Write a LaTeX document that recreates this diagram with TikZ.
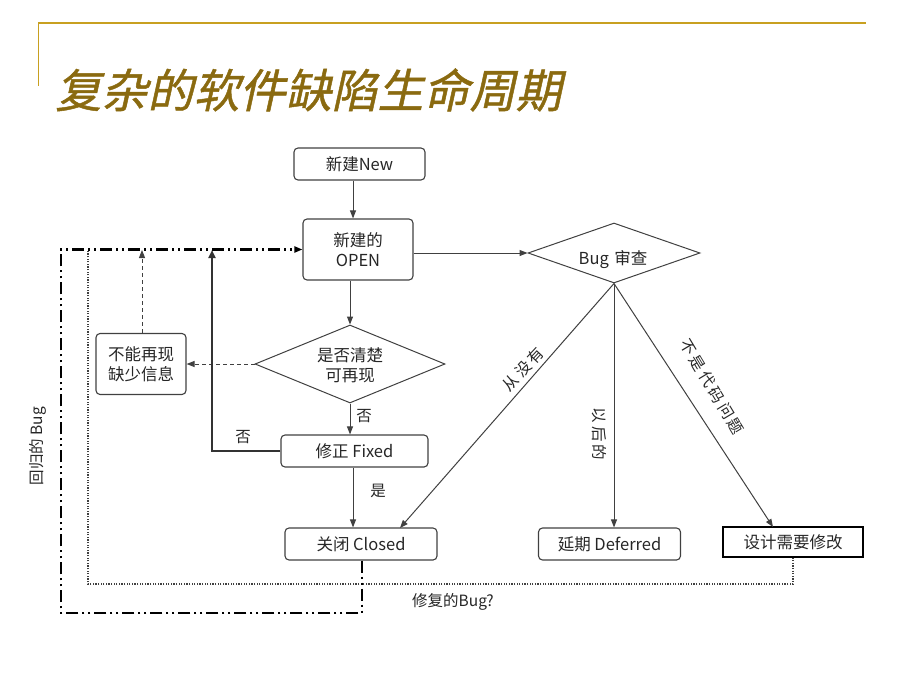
\documentclass[tikz,border=0pt]{standalone}
\usepackage{fontspec}
\setmainfont{Noto Sans CJK SC}
\newfontfamily\titlefont[FakeSlant=0.22,FakeBold=1]{Noto Sans CJK SC}
\usetikzlibrary{arrows.meta,shapes.geometric}
\definecolor{gold}{HTML}{C8A020}
\definecolor{titlecol}{HTML}{8A6A10}
\definecolor{edge}{HTML}{404040}
\newcommand{\gapk}{\kern3pt}
\begin{document}
\begin{tikzpicture}[x=1pt,y=-1pt,
  every node/.style={font=\fontsize{16.5}{20}\selectfont, text=black!85},
  box/.style={draw=edge, line width=1.1pt, rounded corners=4pt, inner sep=0pt, align=center},
  sqbox/.style={draw=black, line width=1.1pt, inner sep=0pt, align=center},
  dia/.style={draw=edge, line width=1pt, diamond, inner sep=0pt},
  arr/.style={draw=edge, line width=1pt, -{Triangle[length=8pt,width=6pt]}},
  thickarr/.style={draw=black!80, line width=2.6pt, -{Triangle[length=8pt,width=7pt]}},
  dasharr/.style={draw=edge, line width=1pt, dash pattern=on 4pt off 3pt, -{Triangle[length=8pt,width=6pt]}},
  dotline/.style={draw=black!75, line width=2pt, dash pattern=on 1.2pt off 1.4pt},
  ddline/.style={draw=black, line width=2.2pt, dash pattern=on 12pt off 4pt on 2pt off 4pt on 2pt off 4pt, -{Triangle[length=8pt,width=6pt]}},
  lbl/.style={font=\fontsize{15.5}{18}\selectfont, inner sep=1pt}
]
\useasboundingbox (0,0) rectangle (920,690);
% header
\draw[gold, line width=1.6pt] (38,23) -- (866,23);
\draw[gold, line width=1pt] (38,23) -- (38,86);
\node[font=\titlefont\fontsize{46}{50}\selectfont, text=titlecol, anchor=west] (title) at (52,90) {复杂的软件缺陷生命周期};

% nodes
\node[box, minimum width=131, minimum height=32] (new) at (359.5,164) {新建New};
\node[box, minimum width=110, minimum height=61] (open) at (358,249.5) {新建的\\OPEN};
\node[dia, minimum width=172, minimum height=60] (bug) at (614,253) {};
\node (bugtxt) at (613,260) {Bug\,\,审查};
\node[dia, minimum width=190, minimum height=78] (rev) at (350,364) {};
\node[align=center] (revtxt) at (350,365) {是否清楚\\可再现};
\node[box, minimum width=90, minimum height=61] (cant) at (141,364) {不能再现\\缺少信息};
\node[box, minimum width=147, minimum height=32] (fixed) at (354.5,451) {修正 Fixed};
\node[box, minimum width=152, minimum height=32] (closed) at (361,544) {关闭 Closed};
\node[box, minimum width=142, minimum height=32] (defer) at (609.5,544) {延期 Deferred};
\node[sqbox, minimum width=140, minimum height=30] (design) at (793,542) {设计需要修改};

% connectors
\draw[arr] (new.south -| 353,0) -- (open.north -| 353,0);
\draw[arr] (open.south -| rev.north) -- (rev.north);
\draw[arr] (open.east |- bug.west) -- (bug.west);
\draw[arr] (rev.south) -- (fixed.north -| rev.south);
\node[lbl] (no1) at (364,416) {否};
\draw[dasharr] (rev.west) -- (cant.east |- rev.west);
\coordinate (top) at (142,250);
\draw[dasharr] (cant.north -| top) -- (top);
\coordinate (loop) at (212,250);
\draw[thickarr] (fixed.west) -| (loop);
\node[lbl] (no2) at (243,437) {否};
\draw[arr] (fixed.south -| 353,0) -- (closed.north -| 353,0);
\node[lbl] (yes) at (378,491) {是};
\coordinate (cl) at (400,528);
\draw[arr] (bug.south) -- (cl);
\draw[arr] (bug.south) -- (defer.north -| bug.south);
\coordinate (ds) at (773,527);
\draw[arr] (bug.south) -- (ds);
\node[lbl, rotate=47] (never) at (523,369) {从\gapk 没\gapk 有};
\node[lbl, rotate=-90] (later) at (599,434) {以\gapk 后\gapk 的};
\node[lbl, rotate=-59] (notcode) at (712,387) {不\gapk 是\gapk 代\gapk 码\gapk 问\gapk 题};

% loops
\coordinate (d1) at (88,584);
\coordinate (d2) at (88,250);
\draw[dotline] (design.south) |- (d1) -- (d2);
\node[lbl] (fixq) at (453,602) {修复的Bug?};
\coordinate (r1) at (61,613);
\draw[ddline] (closed.south -| 362,0) |- (r1) |- (open.west);
\node[lbl, rotate=90] (regr) at (38,446) {回归的 Bug};
\end{tikzpicture}
\end{document}
